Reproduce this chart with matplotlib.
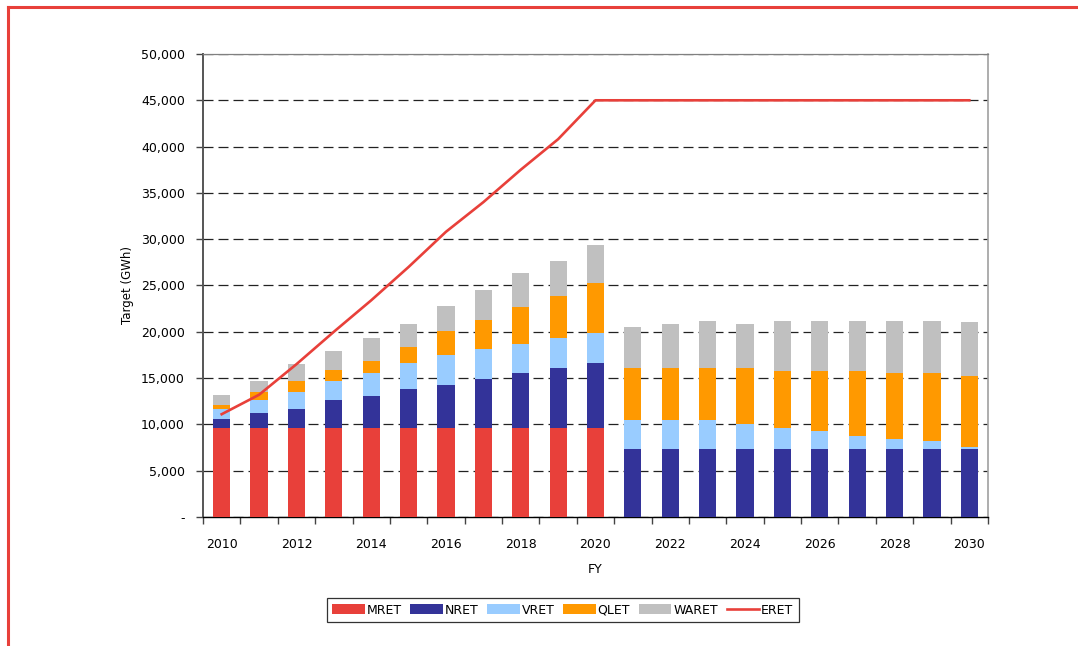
import numpy as np
import matplotlib
matplotlib.use("Agg")
import matplotlib.pyplot as plt
from matplotlib.lines import Line2D
from matplotlib.ticker import FuncFormatter, MultipleLocator

years = list(range(2010, 2031))
mret = [9600] * 11 + [0] * 10
nret = [1000, 1600, 2100, 3000, 3500, 4200, 4700, 5250, 5900, 6450, 7000,
        7300, 7300, 7300, 7300, 7300, 7300, 7300, 7300, 7300, 7300]
vret = [1100, 1400, 1750, 2050, 2400, 2850, 3150, 3250, 3150, 3250, 3250,
        3200, 3200, 3200, 2700, 2350, 2000, 1500, 1150, 950, 250]
qlet = [350, 850, 1200, 1200, 1400, 1750, 2600, 3150, 4050, 4550, 5450,
        5600, 5600, 5600, 6100, 6150, 6500, 7000, 7150, 7350, 7700]
waret = [1150, 1200, 1850, 2050, 2400, 2400, 2700, 3250, 3600, 3800, 4100,
         4400, 4700, 5050, 4700, 5350, 5350, 5350, 5550, 5550, 5850]
eret = [11100, 13200, 16500, 20000, 23400, 27000, 30800, 34000, 37500, 40800,
        45000, 45000, 45000, 45000, 45000, 45000, 45000, 45000, 45000, 45000, 45000]

series = [("MRET", mret, "#E8403A"), ("NRET", nret, "#333399"),
          ("VRET", vret, "#99CCFF"), ("QLET", qlet, "#FF9900"),
          ("WARET", waret, "#C0C0C0")]


def main():
    plt.rcParams["font.family"] = "DejaVu Sans"
    fig = plt.figure(figsize=(10.78, 6.46), dpi=100)
    ax = fig.add_axes([0.1883, 0.1997, 0.7282, 0.7167])

    x = np.arange(len(years))
    bottom = np.zeros(len(years))
    handles = []
    for name, vals, col in series:
        h = ax.bar(x, vals, 0.46, bottom=bottom, color=col, label=name, zorder=3)
        handles.append(h)
        bottom += np.array(vals)
    ln, = ax.plot(x, eret, color="#E8403A", lw=1.9, label="ERET", zorder=4)
    handles.append(ln)

    ax.set_xlim(-0.5, len(years) - 0.5)
    ax.set_ylim(0, 50000)
    ax.yaxis.set_major_locator(MultipleLocator(5000))
    ax.yaxis.set_major_formatter(FuncFormatter(lambda v, p: "-" if v == 0 else f"{v:,.0f}"))
    ax.grid(axis="y", color="#222222", ls=(0, (8, 4)), lw=0.9, zorder=1)

    ax.set_xticks(x[::2])
    ax.set_xticklabels([str(y) for y in years[::2]])
    ax.set_xticks(np.arange(-0.5, len(years)), minor=True)
    ax.tick_params(axis="x", which="major", length=0, pad=15, labelsize=9)
    ax.tick_params(axis="x", which="minor", length=5, width=1, color="#444444")
    ax.tick_params(axis="y", length=5, width=1, color="#444444", labelsize=9, pad=8)

    ax.spines["left"].set_color("#555555")
    ax.spines["left"].set_linewidth(1.4)
    ax.spines["bottom"].set_color("black")
    ax.spines["bottom"].set_linewidth(1.0)
    ax.spines["top"].set_color("#808080")
    ax.spines["top"].set_linewidth(0.9)
    ax.spines["right"].set_color("#A0A0A0")
    ax.spines["right"].set_linewidth(1.2)

    ax.set_xlabel("FY", fontsize=9, labelpad=9)
    ax.set_ylabel("Target (GWh)", fontsize=8.5, labelpad=5)

    leg = ax.legend(handles=handles, loc="center", bbox_to_anchor=(0.522, 0.0557),
                    bbox_transform=fig.transFigure, ncol=6, fontsize=9,
                    frameon=True, fancybox=False, edgecolor="black",
                    handlelength=2.6, handleheight=0.9, handletextpad=0.15,
                    columnspacing=0.7, borderpad=0.45)
    leg.get_frame().set_linewidth(0.9)

    # red frame top and left
    fig.add_artist(Line2D([8 / 1078, 1.0], [1 - 7 / 646, 1 - 7 / 646],
                          color="#E8403A", lw=2.2, transform=fig.transFigure))
    fig.add_artist(Line2D([8 / 1078, 8 / 1078], [1 - 7 / 646, 0.0],
                          color="#E8403A", lw=2.2, transform=fig.transFigure))

    fig.savefig("out.png", dpi=100)


if __name__ == "__main__":
    main()
